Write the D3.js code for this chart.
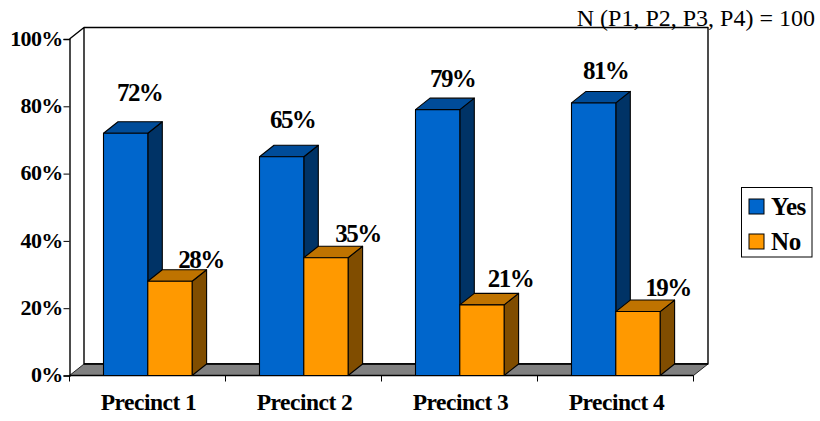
<!DOCTYPE html>
<html><head><meta charset="utf-8">
<script src="https://cdn.jsdelivr.net/npm/d3@7/dist/d3.min.js"></script>
<style>
html,body{margin:0;padding:0;background:#fff}
svg{display:block}
text{font-family:"Liberation Serif","Times New Roman",serif;fill:#000}
</style></head><body>
<svg id="c" width="820" height="421"></svg>
<script>
const categories=["Precinct 1","Precinct 2","Precinct 3","Precinct 4"];
const seriesNames=["Yes","No"];
const yesValues=[72,65,79,81];
const noValues=[28,35,21,19];
const yTicks=[0,20,40,60,80,100];
const noteText="N (P1, P2, P3, P4) = 100";
const colors={Yes:{front:"#0066CC",top:"#004C99",side:"#003366"},No:{front:"#FF9900",top:"#BF7300",side:"#804D00"}};
// layout tweaks: label offset from the bar's front-top centre, per series then per label
const labelOffsets={Yes:[[14,-32.5],[11,-29],[15,-23],[12,-24]],No:[[31,-13],[32,-16],[28.5,-18],[30,-16]]};

const svg=d3.select("#c");
const x0=69.5,x1=693.5,y0=375.5,y100=39,dx=14.5,dy=11.5;
const x=d3.scaleBand().domain(categories).range([x0,x1]);
const inner=d3.scaleBand().domain(seriesNames).range([34,122.6]);
const y=d3.scaleLinear().domain([0,100]).range([y0,y100]);
const pts=a=>a.map(p=>p.join(",")).join(" ");
const ink={stroke:"#000","stroke-width":1.4,"stroke-linejoin":"round"};
function st(s,o){for(const k in o)s.attr(k,o[k]);return s;}

// walls
st(svg.append("path").attr("fill","#fff").attr("d",`M${x0} ${y100}L${x0+dx} ${y100-dy}H${x1+dx}V${y0-dy}H${x0+dx}V${y100-dy}`),ink);
st(svg.append("polygon").attr("fill","#808080").attr("points",pts([[x0,y0],[x0+dx,y0-dy],[x1+dx,y0-dy],[x1,y0]])),{stroke:"#000","stroke-width":0.8});
st(svg.append("line").attr("x1",x0+dx).attr("x2",x1+dx).attr("y1",y0-dy).attr("y2",y0-dy),{stroke:"#000","stroke-width":1.6});

// axes
const yAxis=d3.axisLeft(y).tickValues(yTicks).tickFormat(d=>d+"%").tickSize(6).tickPadding(1);
const gy=svg.append("g").attr("transform",`translate(${x0},0)`).call(yAxis);
gy.select(".domain").attr("stroke","#000").attr("stroke-width",1.4);
gy.selectAll("text").attr("font-size",22).attr("font-weight","bold").attr("font-family","Liberation Serif").attr("letter-spacing","-0.7").attr("dy","0.28em");
const xAxis=d3.axisBottom(x).tickSize(0).tickPadding(18);
const gx=svg.append("g").attr("transform",`translate(1,${y0})`).call(xAxis);
gx.select(".domain").remove();
gx.selectAll("text").attr("font-size",23.5).attr("font-weight","bold").attr("font-family","Liberation Serif").attr("letter-spacing","-0.5");
const bounds=[0,1,2,3,4].map(i=>x0+i*x.step());
svg.append("g").selectAll("line").data(bounds).join("line").attr("x1",d=>d).attr("x2",d=>d).attr("y1",y0).attr("y2",y0+6).attr("stroke","#000").attr("stroke-width",1);
st(svg.append("line").attr("x1",x0).attr("x2",x1).attr("y1",y0).attr("y2",y0),{stroke:"#000","stroke-width":1.4});

// bars
const data=categories.flatMap((c,i)=>[{c,i,s:"Yes",v:yesValues[i]},{c,i,s:"No",v:noValues[i]}]);
const bars=svg.append("g").selectAll("g").data(data).join("g");
bars.each(function(d){
  const g=d3.select(this),l=x(d.c)+inner(d.s),w=inner.bandwidth(),t=y(d.v),col=colors[d.s];
  const edge={stroke:"#000","stroke-width":1.1,"stroke-linejoin":"round"};
  st(g.append("polygon").attr("fill",col.side).attr("points",pts([[l+w,t],[l+w+dx,t-dy],[l+w+dx,y0-dy],[l+w,y0]])),edge);
  st(g.append("polygon").attr("fill",col.top).attr("points",pts([[l,t],[l+dx,t-dy],[l+w+dx,t-dy],[l+w,t]])),edge);
  st(g.append("rect").attr("x",l).attr("y",t).attr("width",w).attr("height",y0-t).attr("fill",col.front),edge);
});

// value labels
svg.append("g").selectAll("text").data(data).join("text")
  .attr("x",d=>x(d.c)+inner(d.s)+inner.bandwidth()/2+labelOffsets[d.s][d.i][0])
  .attr("y",d=>y(d.v)+labelOffsets[d.s][d.i][1])
  .attr("text-anchor","middle").attr("font-size",25).attr("font-weight","bold").attr("letter-spacing","-1.6")
  .text(d=>d.v+"%");

// note
svg.append("text").attr("x",815).attr("y",26).attr("text-anchor","end").attr("font-size",24).text(noteText);

// legend
const lg=svg.append("g").attr("transform","translate(741.5,187.5)");
st(lg.append("rect").attr("width",70.5).attr("height",69.5).attr("fill","#fff"),{stroke:"#000","stroke-width":1});
const li=lg.selectAll("g").data(seriesNames).join("g").attr("transform",(d,i)=>`translate(7.5,${11.5+i*35})`);
st(li.append("rect").attr("width",15).attr("height",15).attr("fill",d=>colors[d].front),{stroke:"#000","stroke-width":1});
li.append("text").attr("x",22).attr("y",15.5).attr("font-size",25).attr("font-weight","bold").attr("letter-spacing","-0.4").text(d=>d);
</script>
</body></html>
